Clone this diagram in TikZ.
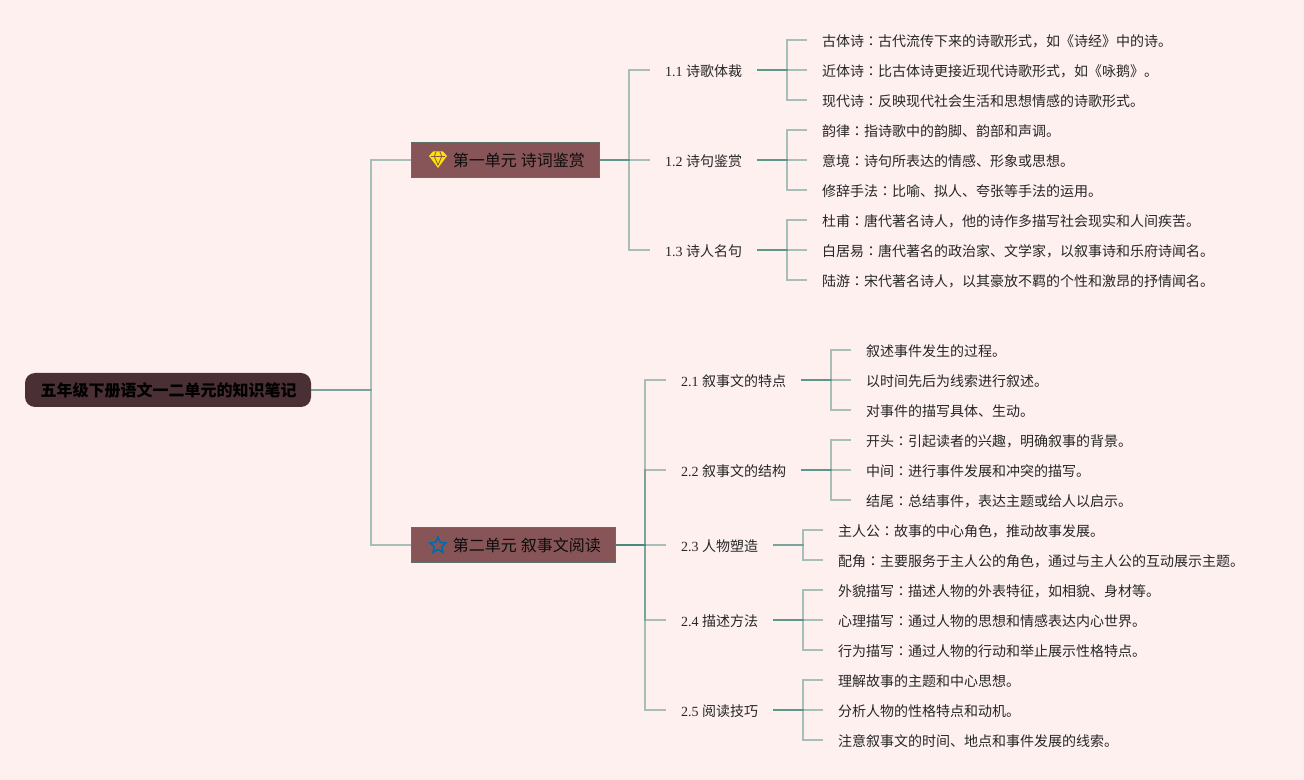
\documentclass[tikz,border=0pt]{standalone}
\usepackage{fontspec}
\setmainfont{Noto Sans CJK SC}
\newfontfamily\numfont{Liberation Serif}
\newfontfamily\cjktc{Noto Sans CJK TC}
\usetikzlibrary{shapes.geometric}
\newcommand{\mh}{{\cjktc ：}}
\newcommand{\secno}[1]{{\numfont #1\ }}
\definecolor{pagebg}{HTML}{FFF0F0}
\definecolor{rootbg}{HTML}{4A3034}
\definecolor{unitbg}{HTML}{875558}
\definecolor{linkcol}{HTML}{3F8577}

\begin{document}
\begin{tikzpicture}[x=0.75pt,y=-0.75pt,
 root/.style={anchor=west,fill=rootbg,outer sep=0pt,rounded corners=7.5pt,inner xsep=10.875pt,inner ysep=0pt,minimum height=25.5pt,font=\bfseries\fontsize{12}{14}\selectfont,text height=11.1pt,text depth=0.9pt},
 unit/.style={anchor=west,fill=unitbg,draw=linkcol!55!unitbg,outer sep=0pt,line width=0.75pt,inner xsep=10.875pt,inner ysep=0pt,minimum height=26.25pt,font=\fontsize{12}{14}\selectfont,text=black!95,text height=11.1pt,text depth=0.9pt},
 sect/.style={anchor=west,outer sep=0pt,inner xsep=11.25pt,inner ysep=0pt,font=\fontsize{10.5}{12}\selectfont,text=black!85,text height=10.1pt,text depth=0.8pt},
 leaf/.style={anchor=west,outer sep=0pt,inner xsep=11.25pt,inner ysep=0pt,font=\fontsize{10.5}{12}\selectfont,text=black!85,text height=10.1pt,text depth=0.8pt},
 link/.style={draw=linkcol,line width=1.5pt,opacity=0.45}]
\useasboundingbox[fill=pagebg] (0,0) rectangle (1304,780);
\node[root] (root) at (25,390) {\hspace*{0.75pt}五年级下册语文一二单元的知识笔记};
\node[unit] (u1) at (411,160) {\hspace*{20.6pt}第一单元{\numfont\ }诗词鉴赏};
\node[unit] (u2) at (411,545) {\hspace*{20.6pt}第二单元{\numfont\ }叙事文阅读};
% icons
\fill[yellow!85!orange] (429,156) -- (433,151.5) -- (443,151.5) -- (447,156) -- (438,168) -- cycle;
\draw[unitbg,line width=0.6pt] (431,156.5) -- (445,156.5) (434.5,157) -- (438,165) -- (441.5,157) (436,152) -- (434.5,156) (440,152) -- (441.5,156);
\node[draw=blue!35!cyan!65!black,star,star points=5,star point ratio=2.1,minimum size=12.5pt,inner sep=0pt,line width=1.2pt] (staricon) at (438,545.5) {};

% unit one
\node[sect] (s11) at (650,70) {\secno{1.1}诗歌体裁};
\node[sect] (s12) at (650,160) {\secno{1.2}诗句鉴赏};
\node[sect] (s13) at (650,250) {\secno{1.3}诗人名句};
\node[leaf] (l111) at (807,40) {古体诗\mh 古代流传下来的诗歌形式，如《诗经》中的诗。};
\node[leaf] (l112) at (807,70) {近体诗\mh 比古体诗更接近现代诗歌形式，如《咏鹅》。};
\node[leaf] (l113) at (807,100) {现代诗\mh 反映现代社会生活和思想情感的诗歌形式。};
\node[leaf] (l121) at (807,130) {韵律\mh 指诗歌中的韵脚、韵部和声调。};
\node[leaf] (l122) at (807,160) {意境\mh 诗句所表达的情感、形象或思想。};
\node[leaf] (l123) at (807,190) {修辞手法\mh 比喻、拟人、夸张等手法的运用。};
\node[leaf] (l131) at (807,220) {杜甫\mh 唐代著名诗人，他的诗作多描写社会现实和人间疾苦。};
\node[leaf] (l132) at (807,250) {白居易\mh 唐代著名的政治家、文学家，以叙事诗和乐府诗闻名。};
\node[leaf] (l133) at (807,280) {陆游\mh 宋代著名诗人，以其豪放不羁的个性和激昂的抒情闻名。};

% unit two
\node[sect] (s21) at (666,380) {\secno{2.1}叙事文的特点};
\node[sect] (s22) at (666,470) {\secno{2.2}叙事文的结构};
\node[sect] (s23) at (666,545) {\secno{2.3}人物塑造};
\node[sect] (s24) at (666,620) {\secno{2.4}描述方法};
\node[sect] (s25) at (666,710) {\secno{2.5}阅读技巧};
\node[leaf] (l211) at (851,350) {叙述事件发生的过程。};
\node[leaf] (l212) at (851,380) {以时间先后为线索进行叙述。};
\node[leaf] (l213) at (851,410) {对事件的描写具体、生动。};
\node[leaf] (l221) at (851,440) {开头\mh 引起读者的兴趣，明确叙事的背景。};
\node[leaf] (l222) at (851,470) {中间\mh 进行事件发展和冲突的描写。};
\node[leaf] (l223) at (851,500) {结尾\mh 总结事件，表达主题或给人以启示。};
\node[leaf] (l231) at (823,530) {主人公\mh 故事的中心角色，推动故事发展。};
\node[leaf] (l232) at (823,560) {配角\mh 主要服务于主人公的角色，通过与主人公的互动展示主题。};
\node[leaf] (l241) at (823,590) {外貌描写\mh 描述人物的外表特征，如相貌、身材等。};
\node[leaf] (l242) at (823,620) {心理描写\mh 通过人物的思想和情感表达内心世界。};
\node[leaf] (l243) at (823,650) {行为描写\mh 通过人物的行动和举止展示性格特点。};
\node[leaf] (l251) at (823,680) {理解故事的主题和中心思想。};
\node[leaf] (l252) at (823,710) {分析人物的性格特点和动机。};
\node[leaf] (l253) at (823,740) {注意叙事文的时间、地点和事件发展的线索。};

% connectors
\draw[link] (root.east) -- ++(60,0) |- (u1.west);
\draw[link] (root.east) -- ++(60,0) |- (u2.west);
\draw[link] (u1.east) -- ++(30,0) |- (s11.west);
\draw[link] (u1.east) -- ++(30,0) |- (s12.west);
\draw[link] (u1.east) -- ++(30,0) |- (s13.west);
\draw[link] (s11.east) -- ++(30,0) |- (l111.west);
\draw[link] (s11.east) -- ++(30,0) |- (l112.west);
\draw[link] (s11.east) -- ++(30,0) |- (l113.west);
\draw[link] (s12.east) -- ++(30,0) |- (l121.west);
\draw[link] (s12.east) -- ++(30,0) |- (l122.west);
\draw[link] (s12.east) -- ++(30,0) |- (l123.west);
\draw[link] (s13.east) -- ++(30,0) |- (l131.west);
\draw[link] (s13.east) -- ++(30,0) |- (l132.west);
\draw[link] (s13.east) -- ++(30,0) |- (l133.west);
\draw[link] (u2.east) -- ++(30,0) |- (s21.west);
\draw[link] (u2.east) -- ++(30,0) |- (s22.west);
\draw[link] (u2.east) -- ++(30,0) |- (s23.west);
\draw[link] (u2.east) -- ++(30,0) |- (s24.west);
\draw[link] (u2.east) -- ++(30,0) |- (s25.west);
\draw[link] (s21.east) -- ++(30,0) |- (l211.west);
\draw[link] (s21.east) -- ++(30,0) |- (l212.west);
\draw[link] (s21.east) -- ++(30,0) |- (l213.west);
\draw[link] (s22.east) -- ++(30,0) |- (l221.west);
\draw[link] (s22.east) -- ++(30,0) |- (l222.west);
\draw[link] (s22.east) -- ++(30,0) |- (l223.west);
\draw[link] (s23.east) -- ++(30,0) |- (l231.west);
\draw[link] (s23.east) -- ++(30,0) |- (l232.west);
\draw[link] (s24.east) -- ++(30,0) |- (l241.west);
\draw[link] (s24.east) -- ++(30,0) |- (l242.west);
\draw[link] (s24.east) -- ++(30,0) |- (l243.west);
\draw[link] (s25.east) -- ++(30,0) |- (l251.west);
\draw[link] (s25.east) -- ++(30,0) |- (l252.west);
\draw[link] (s25.east) -- ++(30,0) |- (l253.west);
\end{tikzpicture}
\end{document}
